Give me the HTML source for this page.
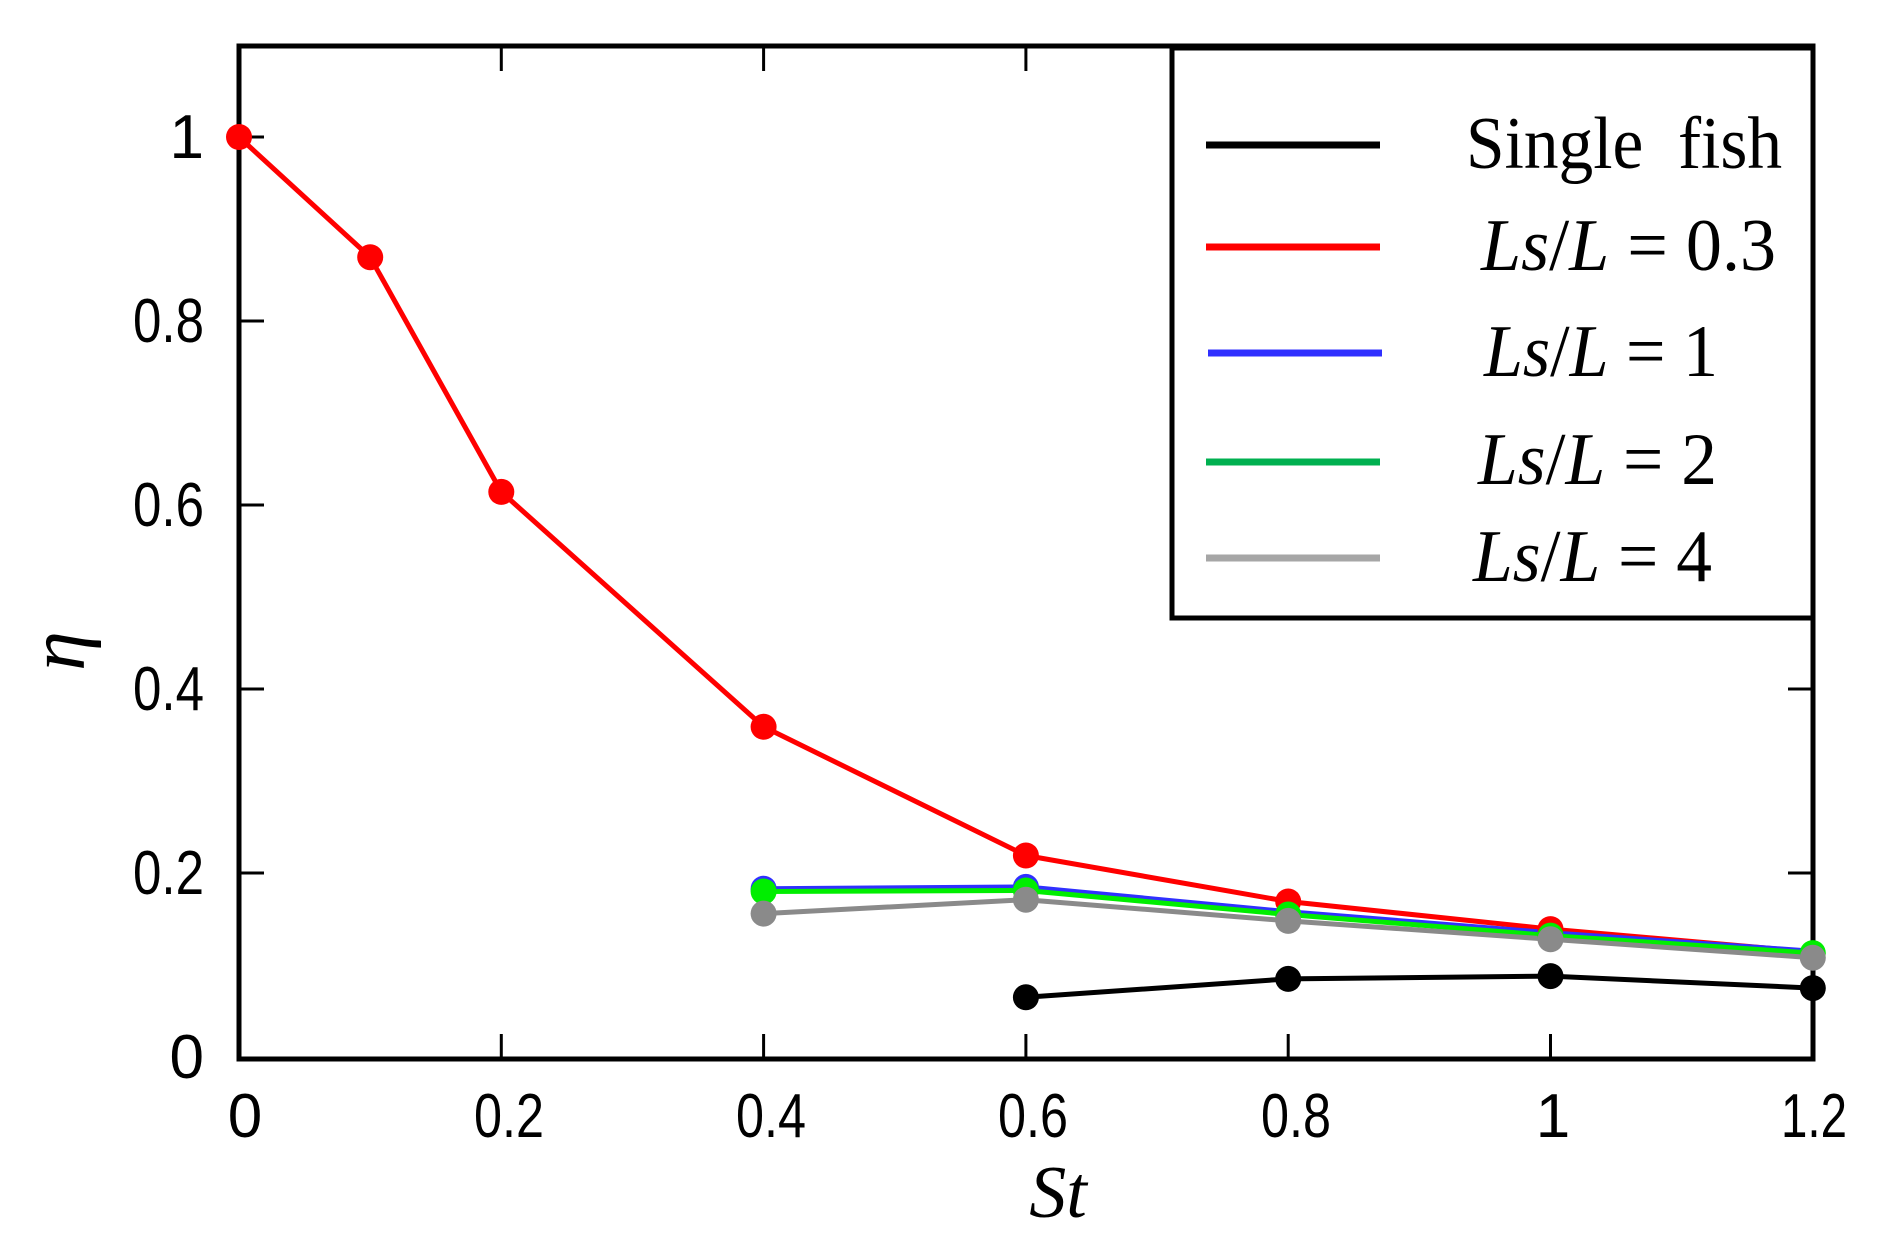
<!DOCTYPE html>
<html><head><meta charset="utf-8"><style>html,body{margin:0;padding:0;background:#fff}svg{display:block}</style></head>
<body>
<svg width="1881" height="1255" viewBox="0 0 1881 1255" xmlns="http://www.w3.org/2000/svg">
<rect width="1881" height="1255" fill="#fff"/>
<g stroke="#000" stroke-width="3">
<line x1="501.3" y1="1059" x2="501.3" y2="1034"/><line x1="763.6" y1="1059" x2="763.6" y2="1034"/><line x1="1025.9" y1="1059" x2="1025.9" y2="1034"/><line x1="1288.2" y1="1059" x2="1288.2" y2="1034"/><line x1="1550.5" y1="1059" x2="1550.5" y2="1034"/>
<line x1="501.3" y1="46" x2="501.3" y2="71"/><line x1="763.6" y1="46" x2="763.6" y2="71"/><line x1="1025.9" y1="46" x2="1025.9" y2="71"/>
<line x1="239" y1="137" x2="264" y2="137"/><line x1="239" y1="321" x2="264" y2="321"/><line x1="239" y1="505" x2="264" y2="505"/><line x1="239" y1="689" x2="264" y2="689"/><line x1="239" y1="873" x2="264" y2="873"/>
<line x1="1813" y1="689" x2="1788" y2="689"/><line x1="1813" y1="873" x2="1788" y2="873"/>
</g>
<rect x="239" y="46" width="1574" height="1013" fill="none" stroke="#000" stroke-width="5"/>
<g font-family="Liberation Sans, sans-serif" font-size="62" fill="#000">
<text x="204" y="158" text-anchor="end">1</text>
<text x="204" y="342" text-anchor="end" textLength="71" lengthAdjust="spacingAndGlyphs">0.8</text>
<text x="204" y="526" text-anchor="end" textLength="71" lengthAdjust="spacingAndGlyphs">0.6</text>
<text x="204" y="710" text-anchor="end" textLength="71" lengthAdjust="spacingAndGlyphs">0.4</text>
<text x="204" y="894" text-anchor="end" textLength="71" lengthAdjust="spacingAndGlyphs">0.2</text>
<text x="204" y="1078" text-anchor="end">0</text>
<text x="245" y="1137" text-anchor="middle">0</text>
<text x="474" y="1137" textLength="70" lengthAdjust="spacingAndGlyphs">0.2</text>
<text x="736" y="1137" textLength="70" lengthAdjust="spacingAndGlyphs">0.4</text>
<text x="998" y="1137" textLength="70" lengthAdjust="spacingAndGlyphs">0.6</text>
<text x="1261" y="1137" textLength="70" lengthAdjust="spacingAndGlyphs">0.8</text>
<text x="1553" y="1137" text-anchor="middle">1</text>
<text x="1781" y="1137" textLength="66" lengthAdjust="spacingAndGlyphs">1.2</text>
</g>
<text x="1058" y="1217" text-anchor="middle" font-family="Liberation Serif, serif" font-style="italic" font-size="74">St</text>
<text transform="translate(84,651) rotate(-90)" text-anchor="middle" font-family="Liberation Serif, serif" font-style="italic" font-size="80">η</text>
<g stroke-width="5" fill="none" stroke-linejoin="round">
<polyline stroke="#ff0000" points="239,137 370.2,257.2 501.3,491.9 763.6,726.8 1025.9,855.5 1288.2,901.5 1550.5,929.1 1812.8,952.1"/>
<polyline stroke="#3030ff" points="763.6,888.7 1025.9,886.9 1288.2,911.7 1550.5,932.8 1812.8,951.2"/>
<polyline stroke="#00ee00" points="763.6,891.5 1025.9,890.5 1288.2,914.5 1550.5,935.6 1812.8,953.1"/>
<polyline stroke="#8a8a8a" points="763.6,913.6 1025.9,899.7 1288.2,920.9 1550.5,939.3 1812.8,957.7"/>
<polyline stroke="#000" points="1025.9,997.3 1288.2,978.9 1550.5,976.1 1812.8,988.1"/>
</g>
<g fill="#ff0000"><circle cx="239" cy="137" r="13"/><circle cx="370.2" cy="257.2" r="13"/><circle cx="501.3" cy="491.9" r="13"/><circle cx="763.6" cy="726.8" r="13"/><circle cx="1025.9" cy="855.5" r="13"/><circle cx="1288.2" cy="901.5" r="13"/><circle cx="1550.5" cy="929.1" r="13"/></g>
<g fill="#3030ff"><circle cx="763.6" cy="888.7" r="13"/><circle cx="1025.9" cy="886.9" r="13"/></g>
<g fill="#00ee00"><circle cx="763.6" cy="891.5" r="13"/><circle cx="1025.9" cy="890.5" r="13"/><circle cx="1288.2" cy="914.5" r="13"/><circle cx="1550.5" cy="935.6" r="13"/><circle cx="1812.8" cy="953.1" r="13"/></g>
<g fill="#8a8a8a"><circle cx="763.6" cy="913.6" r="13"/><circle cx="1025.9" cy="899.7" r="13"/><circle cx="1288.2" cy="920.9" r="13"/><circle cx="1550.5" cy="939.3" r="13"/><circle cx="1812.8" cy="957.7" r="13"/></g>
<g fill="#000"><circle cx="1025.9" cy="997.3" r="13"/><circle cx="1288.2" cy="978.9" r="13"/><circle cx="1550.5" cy="976.1" r="13"/><circle cx="1812.8" cy="988.1" r="13"/></g>
<rect x="1172" y="48" width="641" height="570" fill="#fff" stroke="#000" stroke-width="5"/>
<g stroke-width="7">
<line x1="1206" y1="145" x2="1380" y2="145" stroke="#000"/>
<line x1="1206" y1="247" x2="1380" y2="247" stroke="#ff0000"/>
<line x1="1208" y1="353" x2="1382" y2="353" stroke="#3030ff"/>
<line x1="1206" y1="462" x2="1380" y2="462" stroke="#00b050"/>
<line x1="1206" y1="558" x2="1380" y2="558" stroke="#a6a6a6"/>
</g>
<g font-family="Liberation Serif, serif" font-size="74" fill="#000">
<text x="1466" y="168" textLength="316" lengthAdjust="spacingAndGlyphs" xml:space="preserve">Single  fish</text>
<text x="1481" y="270" textLength="295" lengthAdjust="spacingAndGlyphs"><tspan font-style="italic">Ls</tspan>/<tspan font-style="italic">L</tspan> = 0.3</text>
<text x="1484" y="376" textLength="234" lengthAdjust="spacingAndGlyphs"><tspan font-style="italic">Ls</tspan>/<tspan font-style="italic">L</tspan> = 1</text>
<text x="1478" y="484" textLength="239" lengthAdjust="spacingAndGlyphs"><tspan font-style="italic">Ls</tspan>/<tspan font-style="italic">L</tspan> = 2</text>
<text x="1473" y="581" textLength="239" lengthAdjust="spacingAndGlyphs"><tspan font-style="italic">Ls</tspan>/<tspan font-style="italic">L</tspan> = 4</text>
</g>
</svg>
</body></html>
